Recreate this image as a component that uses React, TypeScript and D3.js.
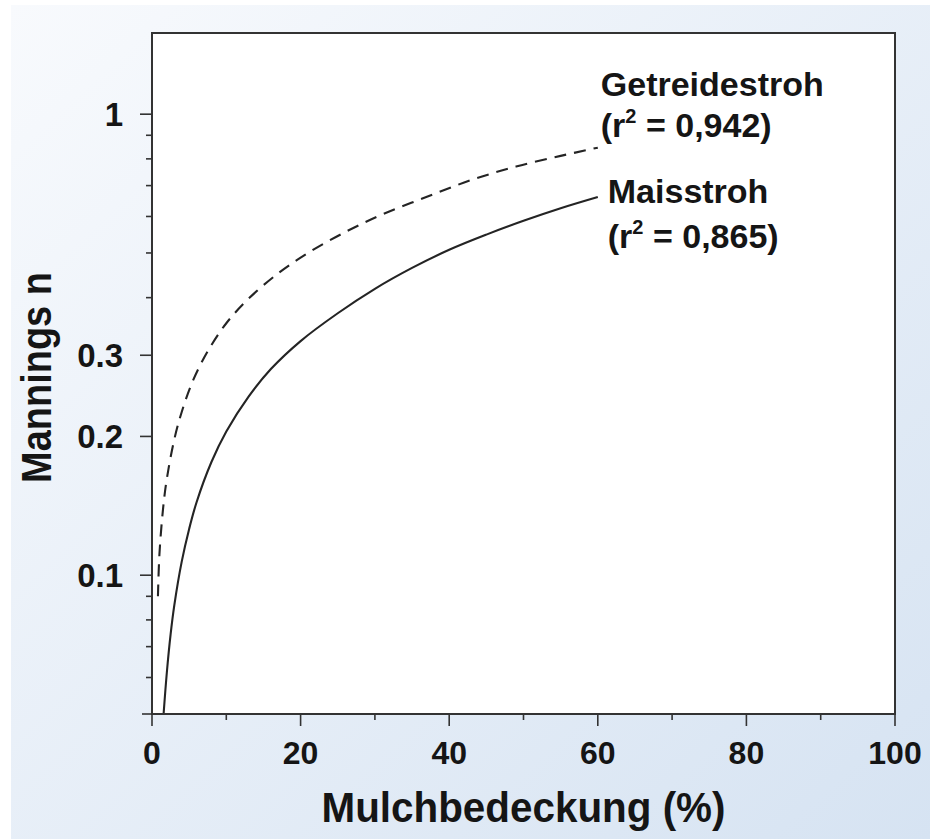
import React from "react";
import * as d3 from "d3";

// Mulch cover (%) against Manning's n
const cornX = [1.56, 2, 2.5, 3, 4, 5, 6, 8, 10, 13, 16, 20, 25, 30, 35, 40, 45, 50, 55, 60];
const cornN = [0.05, 0.0616, 0.0743, 0.086, 0.107, 0.126, 0.144, 0.176, 0.205, 0.244, 0.28, 0.322, 0.37, 0.418, 0.464, 0.508, 0.548, 0.587, 0.625, 0.661];

const grainX = [0.8, 1, 1.5, 2, 3, 4, 5.5, 7.5, 10, 13, 17, 21, 26, 31, 37, 43, 49, 55, 60];
const grainN = [0.09, 0.111, 0.14, 0.162, 0.197, 0.226, 0.264, 0.306, 0.352, 0.398, 0.452, 0.5, 0.555, 0.606, 0.662, 0.72, 0.77, 0.812, 0.846];

const xMajorTicks = [0, 20, 40, 60, 80, 100];
const xMinorTicks = [10, 30, 50, 70, 90];
const yMajorTicks = [1, 0.3, 0.2, 0.1];
const yTickLabels = ["1", "0.3", "0.2", "0.1"];
const yMinorTicks = [0.9, 0.8, 0.7, 0.6, 0.5, 0.4, 0.09, 0.08, 0.07, 0.06];

const grainLabel = "Getreidestroh";
const grainR2 = "0,942";
const cornLabel = "Maisstroh";
const cornR2 = "0,865";

const W = 930;
const H = 839;
const left = 152;
const right = 895;
const top = 33;
const bottom = 714;

const FONT = "'Liberation Sans', Arial, Helvetica, sans-serif";
const INK = "#151515";
const AXIS = "#333";

export default function App() {
  const x = d3.scaleLinear().domain([0, 100]).range([left, right]);
  const y = d3.scaleLog().domain([0.05, 1.5]).range([bottom, top]);

  const line = d3
    .line<[number, number]>()
    .x((d) => x(d[0]))
    .y((d) => y(d[1]))
    .curve(d3.curveCatmullRom.alpha(0.5));

  const cornPath = line(cornX.map((v, i) => [v, cornN[i]] as [number, number])) || "";
  const grainPath = line(grainX.map((v, i) => [v, grainN[i]] as [number, number])) || "";

  const labelX = x(60) + 7;

  return (
    <svg
      width={W}
      height={H}
      style={{ position: "absolute", left: 0, top: 0, display: "block" }}
      fontFamily={FONT}
    >
      <defs>
        <linearGradient id="bg" x1="0" y1="0" x2="1" y2="1">
          <stop offset="0" stopColor="#f8fafd" />
          <stop offset="1" stopColor="#d6e3f2" />
        </linearGradient>
        <clipPath id="plot">
          <rect x={left} y={top} width={right - left} height={bottom - top} />
        </clipPath>
      </defs>

      <rect x={0} y={0} width={W} height={H} fill="#ffffff" />
      <rect x={11} y={5} width={W - 11} height={H - 5} fill="url(#bg)" />
      <rect x={left} y={top} width={right - left} height={bottom - top} fill="#ffffff" />

      {/* curves */}
      <g clipPath="url(#plot)" fill="none" stroke="#242424" strokeWidth={2.1}>
        <path d={grainPath} strokeDasharray="12 8" />
        <path d={cornPath} />
      </g>

      {/* frame */}
      <rect
        x={left}
        y={top}
        width={right - left}
        height={bottom - top}
        fill="none"
        stroke={AXIS}
        strokeWidth={2}
      />

      {/* y ticks */}
      <g stroke={AXIS} strokeWidth={1.6}>
        {yMajorTicks.map((t) => (
          <line key={"ym" + t} x1={left - 12} x2={left} y1={y(t)} y2={y(t)} />
        ))}
        {yMinorTicks.map((t) => (
          <line key={"yn" + t} x1={left - 6} x2={left} y1={y(t)} y2={y(t)} />
        ))}
        <line x1={left - 10} x2={left} y1={y(0.05)} y2={y(0.05)} />
      </g>
      <g fontSize={33} fontWeight="bold" fill={INK} textAnchor="end">
        {yMajorTicks.map((t, i) => (
          <text key={"yl" + t} x={left - 29} y={y(t)} dy="0.35em">
            {yTickLabels[i]}
          </text>
        ))}
      </g>

      {/* x ticks */}
      <g stroke={AXIS} strokeWidth={1.6}>
        {xMajorTicks.map((t) => (
          <line key={"xm" + t} x1={x(t)} x2={x(t)} y1={bottom} y2={bottom + 12} />
        ))}
        {xMinorTicks.map((t) => (
          <line key={"xn" + t} x1={x(t)} x2={x(t)} y1={bottom} y2={bottom + 6} />
        ))}
      </g>
      <g fontSize={32} fontWeight="bold" fill={INK} textAnchor="middle">
        {xMajorTicks.map((t) => (
          <text key={"xl" + t} x={x(t)} y={bottom + 50}>
            {t}
          </text>
        ))}
      </g>

      {/* axis titles */}
      <text
        x={(left + right) / 2}
        y={822}
        textAnchor="middle"
        fontSize={43}
        fontWeight="bold"
        fill={INK}
        textLength={404}
        lengthAdjust="spacingAndGlyphs"
      >
        Mulchbedeckung (%)
      </text>
      <text
        transform={`translate(51, ${(top + bottom) / 2 + 4}) rotate(-90)`}
        textAnchor="middle"
        fontSize={42}
        fontWeight="bold"
        fill={INK}
        textLength={211}
        lengthAdjust="spacingAndGlyphs"
      >
        Mannings n
      </text>

      {/* curve labels */}
      <g fontSize={34} fontWeight="bold" fill={INK}>
        <text x={labelX - 4} y={96}>
          {grainLabel}
        </text>
        <text x={labelX - 4} y={137}>
          (r
          <tspan fontSize={20} dy={-14}>
            2
          </tspan>
          <tspan dy={14}>{" = " + grainR2 + ")"}</tspan>
        </text>
        <text x={labelX + 3} y={203}>
          {cornLabel}
        </text>
        <text x={labelX + 3} y={248}>
          (r
          <tspan fontSize={20} dy={-14}>
            2
          </tspan>
          <tspan dy={14}>{" = " + cornR2 + ")"}</tspan>
        </text>
      </g>
    </svg>
  );
}
